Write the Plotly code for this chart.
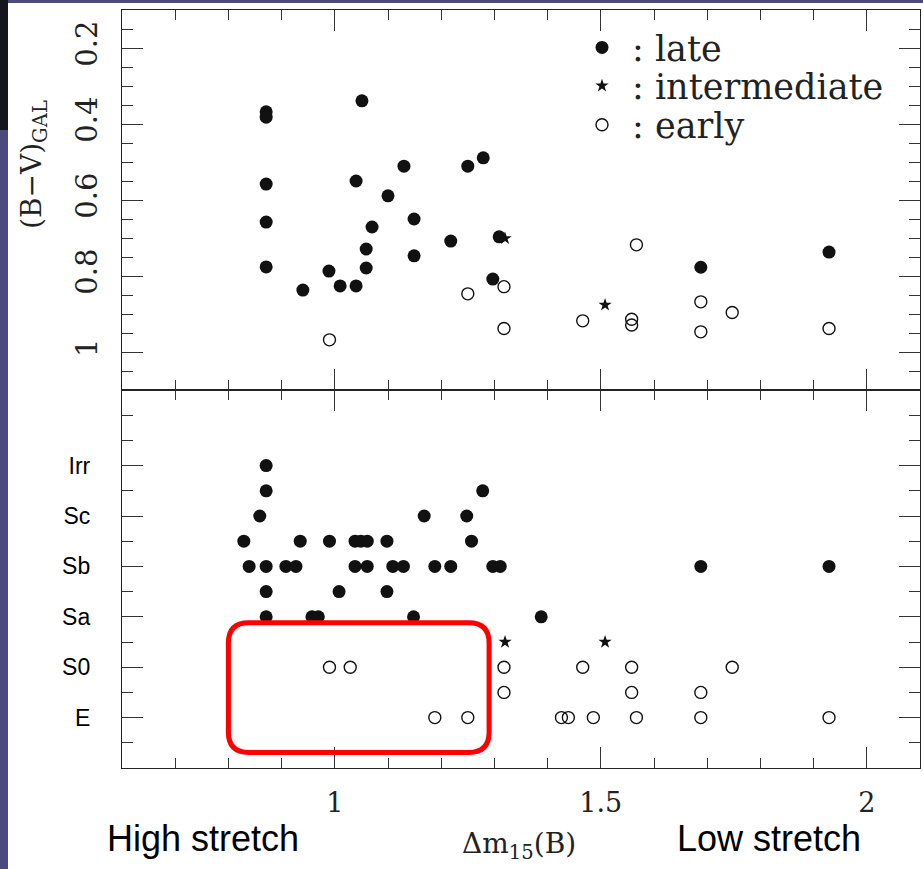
import plotly.graph_objects as go

# ---------------- data ----------------
# Top panel: host galaxy colour (B-V)_GAL vs decline rate dm15(B)
late_dm15_top = [0.871, 0.871, 0.871, 0.871, 0.871, 0.940, 0.989, 1.010, 1.040, 1.040, 1.051, 1.059, 1.059,
                 1.070, 1.100, 1.130, 1.149, 1.149, 1.218, 1.250, 1.279, 1.297, 1.309, 1.688, 1.929]
late_bv = [0.368, 0.382, 0.558, 0.658, 0.776, 0.837, 0.787, 0.826, 0.826, 0.550, 0.339, 0.729, 0.779,
           0.671, 0.589, 0.511, 0.650, 0.747, 0.708, 0.511, 0.489, 0.808, 0.697, 0.777, 0.737]
inter_dm15_top = [1.320, 1.508]
inter_bv = [0.701, 0.876]
early_dm15_top = [1.318, 1.250, 1.318, 0.990, 1.466, 1.567, 1.688, 1.688, 1.747, 1.558, 1.558, 1.929]
early_bv = [0.828, 0.847, 0.938, 0.968, 0.918, 0.718, 0.868, 0.947, 0.896, 0.914, 0.929, 0.938]

# Bottom panel: morphological type (E=0 ... Irr=5) vs dm15(B)
type_labels = ["E", "S0", "Sa", "Sb", "Sc", "Irr"]
type_values = [0, 1, 2, 3, 4, 5]
late_dm15_bot = [0.871,
                 0.871, 1.278,
                 0.859, 1.168, 1.248,
                 0.829, 0.935, 0.990, 1.038, 1.049, 1.061, 1.098, 1.257,
                 0.839, 0.871, 0.908, 0.927, 1.038, 1.061, 1.109, 1.129, 1.188, 1.218, 1.297, 1.311, 1.688, 1.929,
                 0.871, 1.008, 1.098,
                 0.871, 0.957, 0.969, 1.148, 1.388]
late_type = [5,
             4.5, 4.5,
             4, 4, 4,
             3.5, 3.5, 3.5, 3.5, 3.5, 3.5, 3.5, 3.5,
             3, 3, 3, 3, 3, 3, 3, 3, 3, 3, 3, 3, 3, 3,
             2.5, 2.5, 2.5,
             2, 2, 2, 2, 2]
inter_dm15_bot = [1.320, 1.508]
inter_type = [1.5, 1.5]
early_dm15_bot = [0.990, 1.029, 1.318, 1.466, 1.558, 1.747,
                  1.318, 1.558, 1.688,
                  1.188, 1.250, 1.426, 1.439, 1.486, 1.567, 1.688, 1.929]
early_type = [1, 1, 1, 1, 1, 1,
              0.5, 0.5, 0.5,
              0, 0, 0, 0, 0, 0, 0, 0]

legend_names = [": late", ": intermediate", ": early"]

# highlighted region (data units): dm15 range and type range
box_dm15 = [0.80, 1.29]
box_type = [-0.69, 1.88]

# ---------------- figure ----------------
W, H = 923, 869
L, R, T, B = 122, 3, 10, 101
plot_w = W - L - R
plot_h = H - T - B
split = (H - B - 390) / plot_h  # paper y of the divider


def px_x(px):
    return (px - L) / plot_w


def px_y(py):
    return (H - B - py) / plot_h


serif = "DejaVu Serif"
sans = "Liberation Sans, Arial"
black = "#111111"

fig = go.Figure()

filled = dict(symbol="circle", size=13, color=black)
opened = dict(symbol="circle-open", size=12, color=black, line=dict(width=1.4, color=black))
starm = dict(symbol="star", size=10, color=black, line=dict(width=0))

# top panel
fig.add_trace(go.Scatter(x=late_dm15_top, y=late_bv, mode="markers", marker=filled,
                         xaxis="x2", yaxis="y2", name=legend_names[0], legend="legend"))
fig.add_trace(go.Scatter(x=inter_dm15_top, y=inter_bv, mode="markers", marker=starm,
                         xaxis="x2", yaxis="y2", name=legend_names[1], legend="legend2"))
fig.add_trace(go.Scatter(x=early_dm15_top, y=early_bv, mode="markers", marker=opened,
                         xaxis="x2", yaxis="y2", name=legend_names[2], legend="legend3"))
# bottom panel
fig.add_trace(go.Scatter(x=late_dm15_bot, y=late_type, mode="markers", marker=filled,
                         xaxis="x", yaxis="y", showlegend=False))
fig.add_trace(go.Scatter(x=inter_dm15_bot, y=inter_type, mode="markers", marker=starm,
                         xaxis="x", yaxis="y", showlegend=False))
fig.add_trace(go.Scatter(x=early_dm15_bot, y=early_type, mode="markers", marker=opened,
                         xaxis="x", yaxis="y", showlegend=False))

axis_common = dict(showline=True, linecolor="#222222", linewidth=1.3, mirror="ticks",
                   ticks="inside", tickcolor="#333333", tickwidth=1.3,
                   showgrid=False, zeroline=False)

fig.update_layout(
    width=W, height=H,
    margin=dict(l=L, r=R, t=T, b=B, pad=0),
    paper_bgcolor="white", plot_bgcolor="white",
    xaxis=dict(domain=[0, 1], anchor="y", range=[0.6, 2.1], tickmode="linear", tick0=0, dtick=0.5,
               ticklen=21, minor=dict(tickmode="linear", tick0=0, dtick=0.1, ticklen=10, ticks="inside",
                                      tickcolor="#333333", tickwidth=1.2),
               tickfont=dict(family=serif, size=27, color="#222222"), ticklabelstandoff=10,
               **axis_common),
    xaxis2=dict(domain=[0, 1], anchor="y2", matches="x", range=[0.6, 2.1], tickmode="linear", tick0=0,
                dtick=0.5, ticklen=21, showticklabels=False,
                minor=dict(tickmode="linear", tick0=0, dtick=0.1, ticklen=10, ticks="inside",
                           tickcolor="#333333", tickwidth=1.2),
                **axis_common),
    yaxis=dict(domain=[0, split], anchor="x", range=[-1, 6.5], tickmode="array",
               tickvals=type_values, ticktext=type_labels, ticklen=21,
               minor=dict(tickmode="linear", tick0=-1, dtick=0.5, ticklen=11, ticks="inside",
                          tickcolor="#333333", tickwidth=1.2),
               tickfont=dict(family=sans, size=23, color="black"), ticklabelstandoff=26,
               **axis_common),
    yaxis2=dict(domain=[split, 1], anchor="x2", range=[1.1, 0.1], tickmode="linear", tick0=0, dtick=0.2,
                ticklen=21, tickangle=-90,
                minor=dict(tickmode="linear", tick0=0, dtick=0.05, ticklen=11, ticks="inside",
                           tickcolor="#333333", tickwidth=1.2),
                tickfont=dict(family=serif, size=29, color="#222222"), ticklabelstandoff=12,
                **axis_common),
)

leg_common = dict(xanchor="left", yanchor="middle", bgcolor="rgba(0,0,0,0)", borderwidth=0,
                  font=dict(family=serif, size=35, color="#222222"), itemsizing="trace", itemwidth=50)
fig.update_layout(
    legend=dict(x=px_x(572), y=px_y(47.7), **leg_common),
    legend2=dict(x=px_x(572), y=px_y(86), **leg_common),
    legend3=dict(x=px_x(572), y=px_y(125), **leg_common),
)

# slide background strips
blue = "#4b4b7e"
fig.add_shape(type="rect", xref="paper", yref="paper", x0=px_x(0), x1=px_x(8), y0=px_y(H), y1=px_y(0),
              fillcolor=blue, line=dict(width=0), layer="below")
fig.add_shape(type="rect", xref="paper", yref="paper", x0=px_x(0), x1=px_x(W), y0=px_y(3), y1=px_y(0),
              fillcolor=blue, line=dict(width=0), layer="below")
fig.add_shape(type="rect", xref="paper", yref="paper", x0=px_x(0), x1=px_x(8), y0=px_y(130), y1=px_y(0),
              fillcolor="#15151f", line=dict(width=0), layer="below")

# red rounded highlight box (data coordinates)
x0, x1 = box_dm15
y0, y1 = box_type
rx, ry = 0.038, 0.40
path = (f"M {x0 + rx},{y1} L {x1 - rx},{y1} Q {x1},{y1} {x1},{y1 - ry} "
        f"L {x1},{y0 + ry} Q {x1},{y0} {x1 - rx},{y0} "
        f"L {x0 + rx},{y0} Q {x0},{y0} {x0},{y0 + ry} "
        f"L {x0},{y1 - ry} Q {x0},{y1} {x0 + rx},{y1} Z")
fig.add_shape(type="path", xref="x", yref="y", path=path, line=dict(color="#ff0000", width=5),
              layer="above")

# texts
ann = dict(xref="paper", yref="paper", showarrow=False, xanchor="center", yanchor="middle")
fig.add_annotation(text="(B−V)<sub>GAL</sub>", x=px_x(33), y=px_y(165), textangle=-90,
                   font=dict(family=serif, size=28, color="#222222"), **ann)
fig.add_annotation(text="Δm<sub>15</sub>(B)", x=px_x(519), y=px_y(845),
                   font=dict(family=serif, size=28, color="#222222"), **ann)
fig.add_annotation(text="High stretch", x=px_x(203), y=px_y(838),
                   font=dict(family=sans, size=36, color="black"), **ann)
fig.add_annotation(text="Low stretch", x=px_x(769), y=px_y(838),
                   font=dict(family=sans, size=36, color="black"), **ann)

fig.write_html("out.html")
